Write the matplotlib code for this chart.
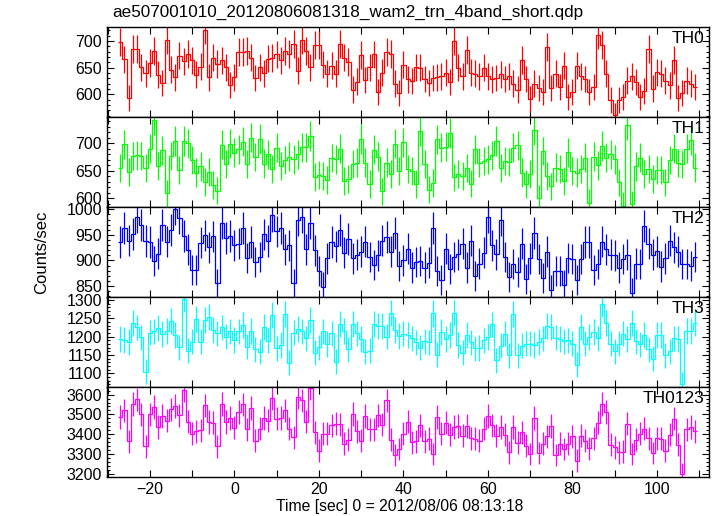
import numpy as np
import matplotlib
matplotlib.use("Agg")
import matplotlib.pyplot as plt
from matplotlib.ticker import MultipleLocator

plt.rcParams['font.family'] = ['Liberation Sans', 'DejaVu Sans']

title = "ae507001010_20120806081318_wam2_trn_4band_short.qdp"
xlabel = "Time [sec] 0 = 2012/08/06 08:13:18"
ylabel = "Counts/sec"
t_first_edge = -27.5
bin_width = 1.0

th0 = [699, 666, 594, 686, 686, 651, 640, 659, 681, 637, 621, 702, 646, 632, 673, 662, 676, 664, 637, 652,
       721, 632, 669, 657, 664, 651, 618, 632, 679, 679, 681, 669, 631, 651, 640, 667, 668, 675, 664, 681,
       676, 695, 644, 702, 681, 651, 692, 693, 656, 639, 654, 639, 694, 669, 661, 609, 624, 674, 627, 651,
       675, 604, 641, 679, 676,
       620, 602, 656, 628, 625, 651, 650, 629, 621, 631, 632, 634, 641, 623, 701, 650, 634, 684, 641, 639,
       634, 650, 634, 628, 631, 638, 629, 634, 620, 609, 665, 629, 591, 620, 612, 604, 689, 612, 639, 614,
       654, 595, 604, 654, 634, 629, 604, 614, 711, 692, 639, 589, 561, 589, 595, 626, 634, 623, 596, 606,
       686, 611, 642, 639, 626, 617, 665, 594, 602, 626, 620, 614]

th1 = [655, 698, 648, 677, 678, 677, 655, 690, 742, 659, 687, 609, 677, 704, 652, 704, 700, 670, 647, 658,
       630, 648, 624, 614, 697, 662, 699, 683, 689, 703, 662, 710, 675, 708, 663, 680, 653, 692, 659, 670,
       676, 671, 680, 693, 693, 713, 639, 643, 641, 634, 673, 671, 690, 632, 636, 662, 665, 708, 665, 626,
       688, 676, 613, 665, 645, 699,
       650, 702, 654, 650, 626, 722, 662, 616, 628, 707, 692, 694, 719, 638, 645, 641, 655, 627, 689, 665,
       668, 671, 678, 704, 655, 668, 666, 692, 696, 647, 626, 644, 724, 600, 686, 641, 622, 656, 653, 632,
       684, 650, 647, 653, 674, 592, 676, 660, 695, 674, 680, 671, 629, 587, 733, 590, 658, 674, 644, 653,
       635, 652, 652, 629, 670, 690, 664, 662, 690, 706, 656]

th2 = [936, 963, 939, 952, 985, 970, 938, 936, 899, 913, 970, 937, 959, 1001, 983, 948, 921, 881, 881, 935,
       949, 926, 947, 855, 974, 944, 948, 930, 933, 963, 905, 936, 897, 907, 951, 938, 988, 957, 963, 922,
       930, 855, 980, 985, 922, 974, 920, 879, 849, 904, 936, 928, 959, 915, 942, 904, 911, 917, 937, 907,
       891, 910, 939, 946, 917, 954,
       889, 900, 923, 886, 897, 899, 886, 896, 963, 879, 862, 923, 883, 907, 912, 933, 886, 939, 870, 894,
       915, 985, 930, 912, 980, 907, 868, 893, 878, 933, 863, 904, 954, 903, 866, 917, 842, 879, 879, 853,
       905, 903, 862, 903, 936, 936, 881, 893, 937, 922, 911, 910, 886, 903, 911, 836, 894, 893, 967, 933,
       911, 918, 888, 904, 939, 926, 917, 893, 893, 889, 907]

th3 = [1193, 1191, 1185, 1236, 1225, 1198, 1105, 1211, 1214, 1223, 1207, 1216, 1243, 1205, 1171, 1303, 1162, 1186, 1247, 1186,
       1244, 1253, 1218, 1209, 1225, 1200, 1214, 1191, 1214, 1232, 1173, 1216, 1165, 1159, 1227, 1189, 1259, 1168, 1177, 1262,
       1129, 1211, 1220, 1214, 1195, 1245, 1156, 1171, 1214, 1180, 1209, 1132, 1235, 1216, 1165, 1235, 1209, 1193, 1159, 1162,
       1235, 1229, 1229, 1200, 1264, 1218,
       1202, 1208, 1204, 1195, 1184, 1170, 1187, 1184, 1263, 1151, 1213, 1193, 1205, 1265, 1177, 1156, 1204, 1184, 1168, 1169,
       1190, 1199, 1233, 1135, 1175, 1208, 1149, 1261, 1149, 1175, 1181, 1181, 1177, 1185, 1195, 1229, 1226, 1197, 1193, 1187,
       1190, 1181, 1124, 1226, 1181, 1199, 1213, 1195, 1290, 1237, 1181, 1160, 1181, 1208, 1193, 1238, 1187, 1179, 1204, 1165,
       1140, 1204, 1204, 1149, 1160, 1195, 1193, 1072, 1215, 1215, 1238]

th0123 = [3486, 3520, 3363, 3554, 3576, 3500, 3339, 3500, 3537, 3436, 3491, 3469, 3525, 3542, 3495, 3622, 3464, 3402, 3414, 3419,
          3546, 3461, 3458, 3339, 3554, 3461, 3481, 3432, 3512, 3551, 3424, 3532, 3368, 3427, 3481, 3469, 3583, 3478, 3481, 3520,
          3427, 3385, 3588, 3571, 3464, 3631, 3410, 3317, 3402, 3402, 3444, 3453, 3449, 3351, 3373, 3503, 3414, 3368, 3491, 3424,
          3424, 3495, 3447, 3571, 3373, 3295, 3325, 3402, 3464, 3359, 3363, 3444, 3363, 3376, 3300, 3486, 3402, 3458, 3397, 3436,
          3441, 3393, 3441, 3380, 3376, 3368, 3427, 3491, 3444, 3393, 3436, 3397, 3308, 3436, 3356, 3410, 3342, 3300, 3481, 3305,
          3351, 3390, 3441, 3295, 3351, 3325, 3351, 3390, 3266, 3393, 3368, 3329, 3380, 3458, 3554, 3512, 3346, 3334, 3308, 3312,
          3453, 3300, 3373, 3402, 3427, 3380, 3305, 3380, 3376, 3317, 3397, 3478, 3346, 3198, 3424, 3436, 3414]

panel_names = ["TH0", "TH1", "TH2", "TH3", "TH0123"]
panel_data = [th0, th1, th2, th3, th0123]
panel_colors = ["#ff0000", "#00ff00", "#0000ff", "#00ffff", "#ff00ff"]
panel_ylims = [(557, 726), (584, 747), (828, 1004), (1062, 1307), (3182, 3637)]
panel_major = [50, 50, 50, 50, 100]
panel_minor = [10, 10, 10, 10, 20]
xlim = (-30.2, 112.3)

W, H = 717, 516
fig = plt.figure(figsize=(W / 100, H / 100), dpi=100)
left = 106.7 / W
right = 709.0 / W
top = 1 - 27.3 / H
bottom = 1 - 477.3 / H
ph = (top - bottom) / 5

for i, (name, vals, col, yl, maj, mnr) in enumerate(zip(panel_names, panel_data, panel_colors,
                                                       panel_ylims, panel_major, panel_minor)):
    ax = fig.add_axes([left, top - (i + 1) * ph, right - left, ph])
    v = np.asarray(vals, dtype=float)
    edges = t_first_edge + bin_width * np.arange(len(v) + 1)
    centers = 0.5 * (edges[:-1] + edges[1:])
    err = np.sqrt(v * bin_width) / bin_width
    ax.vlines(centers, v - err, v + err, color=col, lw=0.9)
    ax.stairs(v, edges, baseline=None, color=col, lw=0.9)
    ax.set_xlim(*xlim)
    ax.set_ylim(*yl)
    ax.xaxis.set_major_locator(MultipleLocator(20))
    ax.xaxis.set_minor_locator(MultipleLocator(10))
    ax.yaxis.set_major_locator(MultipleLocator(maj))
    ax.yaxis.set_minor_locator(MultipleLocator(mnr))
    ax.tick_params(axis='both', which='both', direction='in', top=True, right=True,
                   labelsize=11.5, width=0.8, colors='black')
    ax.tick_params(axis='y', which='major', length=5)
    ax.tick_params(axis='y', which='minor', length=2.5)
    ax.tick_params(axis='x', which='both', length=5)
    for s in ax.spines.values():
        s.set_linewidth(1.0)
    if i < 4:
        ax.tick_params(axis='x', labelbottom=False)
    ax.text(0.992, 0.96, name, transform=ax.transAxes, ha='right', va='top', fontsize=12.5)

fig.text(112 / W, 1 - 12 / H, title, ha='left', va='center', fontsize=12.3)
fig.text(42 / W, 1 - 252 / H, ylabel, rotation=90, ha='center', va='center', fontsize=12)
fig.text(400 / W, 1 - 506 / H, xlabel, ha='center', va='center', fontsize=11.3)

fig.savefig("out.png", dpi=100)
